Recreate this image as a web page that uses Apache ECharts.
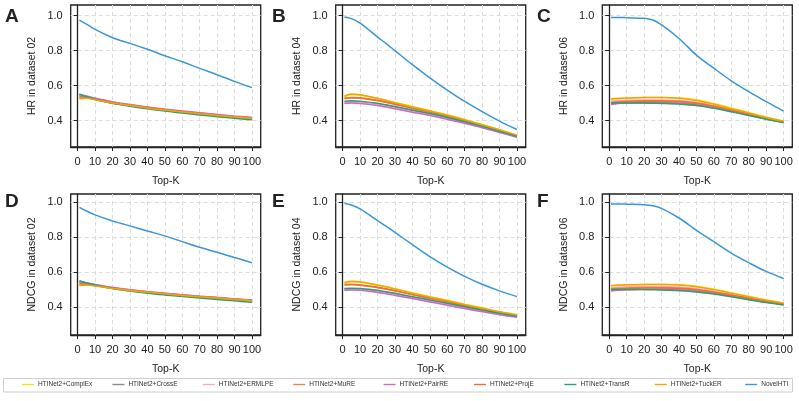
<!DOCTYPE html>
<html>
<head>
<meta charset="utf-8">
<script src="https://cdn.jsdelivr.net/npm/echarts@6/dist/echarts.min.js"></script>
<style>
  html, body { margin: 0; padding: 0; background: #fff; }
  #chart { width: 799px; height: 401px; }
</style>
</head>
<body>
<div id="chart"></div>
<script>
const topK = [1, 5, 10, 20, 25, 30, 40, 50, 60, 70, 80, 90, 100];

const models = [
  'HTINet2+ComplEx', 'HTINet2+CrossE', 'HTINet2+ERMLPE', 'HTINet2+MuRE', 'HTINet2+PairRE',
  'HTINet2+ProjE', 'HTINet2+TransR', 'HTINet2+TuckER', 'NovelHTI'
];

const xTicks = [0, 10, 20, 30, 40, 50, 60, 70, 80, 90, 100];
const yTicks = [0.4, 0.6, 0.8, 1.0];

const panelLetters = ['A', 'B', 'C', 'D', 'E', 'F'];
const yNames = [
  'HR in dataset 02', 'HR in dataset 04', 'HR in dataset 06',
  'NDCG in dataset 02', 'NDCG in dataset 04', 'NDCG in dataset 06'
];

// one row per model, same order as models
const hr02 = [
  [0.535, 0.532, 0.522, 0.502, 0.495, 0.488, 0.474, 0.462, 0.451, 0.441, 0.431, 0.422, 0.414],
  [0.540, 0.533, 0.521, 0.500, 0.493, 0.486, 0.472, 0.460, 0.449, 0.439, 0.429, 0.420, 0.412],
  [0.552, 0.542, 0.530, 0.508, 0.500, 0.493, 0.479, 0.467, 0.456, 0.446, 0.436, 0.427, 0.419],
  [0.545, 0.538, 0.526, 0.505, 0.497, 0.490, 0.476, 0.464, 0.453, 0.443, 0.433, 0.424, 0.416],
  [0.550, 0.540, 0.528, 0.507, 0.499, 0.492, 0.478, 0.466, 0.455, 0.445, 0.435, 0.426, 0.418],
  [0.530, 0.530, 0.522, 0.503, 0.496, 0.489, 0.475, 0.463, 0.452, 0.442, 0.432, 0.423, 0.415],
  [0.552, 0.538, 0.523, 0.500, 0.491, 0.483, 0.468, 0.455, 0.444, 0.433, 0.423, 0.414, 0.405],
  [0.525, 0.528, 0.520, 0.501, 0.494, 0.487, 0.473, 0.461, 0.450, 0.440, 0.430, 0.421, 0.413],
  [0.975, 0.952, 0.922, 0.874, 0.857, 0.842, 0.808, 0.771, 0.737, 0.699, 0.663, 0.625, 0.589]
];

const hr04 = [
  [0.535, 0.548, 0.545, 0.527, 0.516, 0.504, 0.481, 0.458, 0.434, 0.407, 0.379, 0.349, 0.318],
  [0.507, 0.509, 0.507, 0.495, 0.486, 0.477, 0.457, 0.437, 0.416, 0.391, 0.365, 0.338, 0.309],
  [0.503, 0.505, 0.503, 0.491, 0.482, 0.473, 0.453, 0.434, 0.413, 0.389, 0.363, 0.336, 0.308],
  [0.525, 0.530, 0.528, 0.514, 0.504, 0.493, 0.471, 0.448, 0.425, 0.399, 0.372, 0.343, 0.313],
  [0.499, 0.501, 0.499, 0.487, 0.478, 0.468, 0.449, 0.430, 0.409, 0.385, 0.360, 0.333, 0.305],
  [0.528, 0.533, 0.531, 0.517, 0.507, 0.496, 0.473, 0.450, 0.427, 0.401, 0.373, 0.344, 0.314],
  [0.512, 0.514, 0.512, 0.500, 0.491, 0.481, 0.461, 0.441, 0.419, 0.394, 0.368, 0.340, 0.311],
  [0.540, 0.553, 0.548, 0.528, 0.516, 0.503, 0.479, 0.456, 0.432, 0.405, 0.377, 0.348, 0.318],
  [0.993, 0.983, 0.958, 0.878, 0.840, 0.800, 0.720, 0.645, 0.575, 0.510, 0.452, 0.398, 0.350]
];

const hr06 = [
  [0.520, 0.525, 0.528, 0.532, 0.533, 0.533, 0.531, 0.520, 0.498, 0.473, 0.447, 0.422, 0.399],
  [0.498, 0.501, 0.503, 0.504, 0.504, 0.503, 0.500, 0.492, 0.475, 0.454, 0.432, 0.410, 0.391],
  [0.512, 0.515, 0.517, 0.519, 0.519, 0.519, 0.516, 0.506, 0.487, 0.464, 0.440, 0.416, 0.396],
  [0.505, 0.509, 0.511, 0.514, 0.514, 0.514, 0.511, 0.502, 0.484, 0.462, 0.438, 0.415, 0.395],
  [0.492, 0.498, 0.501, 0.503, 0.503, 0.503, 0.500, 0.492, 0.476, 0.455, 0.433, 0.411, 0.392],
  [0.500, 0.505, 0.508, 0.511, 0.511, 0.511, 0.508, 0.499, 0.482, 0.460, 0.437, 0.414, 0.394],
  [0.502, 0.502, 0.502, 0.501, 0.500, 0.499, 0.495, 0.487, 0.471, 0.451, 0.430, 0.409, 0.389],
  [0.525, 0.528, 0.530, 0.532, 0.532, 0.532, 0.528, 0.516, 0.494, 0.469, 0.444, 0.419, 0.397],
  [0.990, 0.990, 0.988, 0.985, 0.975, 0.947, 0.870, 0.775, 0.700, 0.628, 0.566, 0.509, 0.455]
];

const ndcg02 = [
  [0.532, 0.530, 0.524, 0.509, 0.503, 0.497, 0.487, 0.478, 0.469, 0.461, 0.454, 0.446, 0.439],
  [0.538, 0.532, 0.524, 0.507, 0.501, 0.495, 0.484, 0.475, 0.466, 0.458, 0.451, 0.443, 0.436],
  [0.548, 0.540, 0.531, 0.514, 0.507, 0.501, 0.490, 0.481, 0.472, 0.464, 0.457, 0.449, 0.442],
  [0.542, 0.536, 0.528, 0.511, 0.505, 0.499, 0.488, 0.479, 0.470, 0.462, 0.455, 0.447, 0.440],
  [0.547, 0.539, 0.530, 0.513, 0.506, 0.500, 0.489, 0.480, 0.471, 0.463, 0.456, 0.448, 0.441],
  [0.528, 0.529, 0.524, 0.510, 0.504, 0.498, 0.487, 0.478, 0.469, 0.461, 0.454, 0.446, 0.439],
  [0.552, 0.539, 0.527, 0.507, 0.500, 0.493, 0.481, 0.471, 0.462, 0.453, 0.445, 0.437, 0.429],
  [0.525, 0.527, 0.522, 0.508, 0.502, 0.496, 0.486, 0.477, 0.468, 0.460, 0.453, 0.445, 0.438],
  [0.971, 0.950, 0.928, 0.893, 0.879, 0.865, 0.836, 0.808, 0.775, 0.743, 0.714, 0.684, 0.655]
];

const ndcg04 = [
  [0.537, 0.545, 0.543, 0.527, 0.517, 0.506, 0.483, 0.461, 0.440, 0.418, 0.397, 0.376, 0.358],
  [0.504, 0.505, 0.503, 0.492, 0.484, 0.476, 0.457, 0.438, 0.419, 0.400, 0.381, 0.363, 0.347],
  [0.501, 0.502, 0.500, 0.489, 0.481, 0.472, 0.454, 0.435, 0.416, 0.397, 0.379, 0.361, 0.345],
  [0.527, 0.529, 0.526, 0.512, 0.503, 0.493, 0.472, 0.451, 0.430, 0.409, 0.389, 0.369, 0.352],
  [0.498, 0.499, 0.497, 0.485, 0.477, 0.468, 0.450, 0.431, 0.412, 0.393, 0.375, 0.358, 0.343],
  [0.530, 0.532, 0.529, 0.515, 0.506, 0.496, 0.474, 0.453, 0.432, 0.411, 0.391, 0.371, 0.353],
  [0.508, 0.509, 0.507, 0.497, 0.489, 0.480, 0.461, 0.442, 0.423, 0.403, 0.384, 0.366, 0.349],
  [0.542, 0.549, 0.546, 0.528, 0.517, 0.505, 0.481, 0.459, 0.438, 0.416, 0.395, 0.375, 0.357],
  [0.994, 0.984, 0.962, 0.895, 0.862, 0.828, 0.758, 0.690, 0.630, 0.577, 0.532, 0.494, 0.461]
];

const ndcg06 = [
  [0.520, 0.525, 0.528, 0.531, 0.532, 0.532, 0.530, 0.521, 0.504, 0.484, 0.463, 0.443, 0.425],
  [0.498, 0.501, 0.502, 0.503, 0.503, 0.502, 0.499, 0.492, 0.479, 0.463, 0.446, 0.430, 0.416],
  [0.512, 0.515, 0.517, 0.519, 0.519, 0.519, 0.516, 0.507, 0.492, 0.474, 0.455, 0.437, 0.421],
  [0.506, 0.509, 0.511, 0.513, 0.513, 0.513, 0.510, 0.502, 0.488, 0.471, 0.453, 0.435, 0.420],
  [0.493, 0.498, 0.501, 0.503, 0.503, 0.503, 0.500, 0.493, 0.480, 0.464, 0.447, 0.431, 0.417],
  [0.501, 0.505, 0.508, 0.510, 0.510, 0.510, 0.507, 0.499, 0.486, 0.469, 0.451, 0.434, 0.419],
  [0.502, 0.502, 0.502, 0.501, 0.500, 0.499, 0.495, 0.488, 0.476, 0.460, 0.443, 0.427, 0.413],
  [0.524, 0.527, 0.529, 0.531, 0.531, 0.531, 0.527, 0.517, 0.501, 0.481, 0.461, 0.441, 0.424],
  [0.990, 0.990, 0.989, 0.986, 0.980, 0.965, 0.910, 0.840, 0.775, 0.710, 0.655, 0.605, 0.565]
];

const panelData = [hr02, hr04, hr06, ndcg02, ndcg04, ndcg06];

// styles / layout
const colors = ['#f2e21b', '#8c8c8c', '#f7a8d8', '#e8844e', '#d066c8', '#f07030', '#24a37a', '#f5a300', '#3a96d6'];
const FONT = "'Liberation Sans', Arial, sans-serif";
const INK = '#222';
const colLeft = [70.7, 335.7, 602.3];
const gridWidth = 190;
const rowTop = [5, 194];
const rowHeight = [142, 141];
const rowYRange = [[0.25, 1.061], [0.242, 1.047]];
const letterX = [5, 272, 537];
const letterY = [16.8, 201.8];

const grids = [], xAxes = [], yAxes = [], series = [], graphics = [];

panelData.forEach((rows, p) => {
  const col = p % 3
  const row = Math.floor(p / 3)

  grids.push({
    left: colLeft[col],
    top: rowTop[row],
    width: gridWidth,
    height: rowHeight[row],
    show: true,
    borderColor: INK,
    borderWidth: 1.3,
    containLabel: false,
  })

  xAxes.push({
    gridIndex: p,
    type: 'value',
    min: -4,
    max: 105,
    name: 'Top-K',
    nameLocation: 'middle',
    nameGap: 29,
    nameTextStyle: { fontSize: 10.5, color: INK, fontFamily: FONT },
    axisLine: { onZero: false, lineStyle: { color: INK, width: 1.3 } },
    axisTick: { customValues: xTicks, length: 4, lineStyle: { color: INK, width: 1 } },
    axisLabel: {
      customValues: xTicks,
      margin: 9,
      fontSize: 11,
      color: INK,
      fontFamily: FONT,
    },
    splitLine: { show: true, lineStyle: { color: '#dcdcdc', type: [4, 3], width: 1 } },
  })

  yAxes.push({
    gridIndex: p,
    type: 'value',
    min: rowYRange[row][0],
    max: rowYRange[row][1],
    name: yNames[p],
    nameLocation: 'middle',
    nameGap: 33,
    nameTextStyle: { fontSize: 10.5, color: INK, fontFamily: FONT },
    axisLine: { show: true, lineStyle: { color: INK, width: 1.3 } },
    axisTick: { show: true, customValues: yTicks, length: 4, lineStyle: { color: INK, width: 1 } },
    axisLabel: {
      customValues: yTicks,
      margin: 8,
      fontSize: 11,
      color: INK,
      fontFamily: FONT,
      formatter: (v) => v.toFixed(1),
    },
    splitLine: { show: true, lineStyle: { color: '#dcdcdc', type: [4, 3], width: 1 } },
  })

  rows.forEach((vals, m) => {
    series.push({
      name: models[m],
      type: 'line',
      xAxisIndex: p,
      yAxisIndex: p,
      data: topK.map((k, i) => [k, vals[i]]),
      smooth: 0.35,
      showSymbol: false,
      symbol: 'none',
      lineStyle: { width: 1.5, color: colors[m] },
      itemStyle: { color: colors[m] },
      z: m === 8 ? 3 : 2,
    })
  })

  graphics.push({
    type: 'text',
    x: letterX[col],
    y: letterY[row],
    style: {
      text: panelLetters[p],
      font: `bold 19px ${FONT}`,
      fill: INK,
      verticalAlign: 'middle',
    },
  })
})

// legend frame
graphics.push({
  type: 'rect',
  shape: { x: 3.5, y: 378.5, width: 789, height: 13.5 },
  style: { fill: 'none', stroke: '#cfcfcf', lineWidth: 1 },
})

// one legend per item so the columns stay evenly spaced
const legends = models.map((name, i) => ({
  data: [name],
  left: 22 + 90.4 * i,
  top: 381,
  padding: 0,
  icon: 'rect',
  itemWidth: 12,
  itemHeight: 1.4,
  textStyle: { fontSize: 6.5, color: '#333', fontFamily: FONT, padding: [0, 0, 0, -1] },
}))

const chart = echarts.init(document.getElementById('chart'), null, { renderer: 'canvas' })
chart.setOption({
  animation: false,
  backgroundColor: '#fff',
  grid: grids,
  xAxis: xAxes,
  yAxis: yAxes,
  legend: legends,
  series: series,
  graphic: graphics,
})
</script>
</body>
</html>
